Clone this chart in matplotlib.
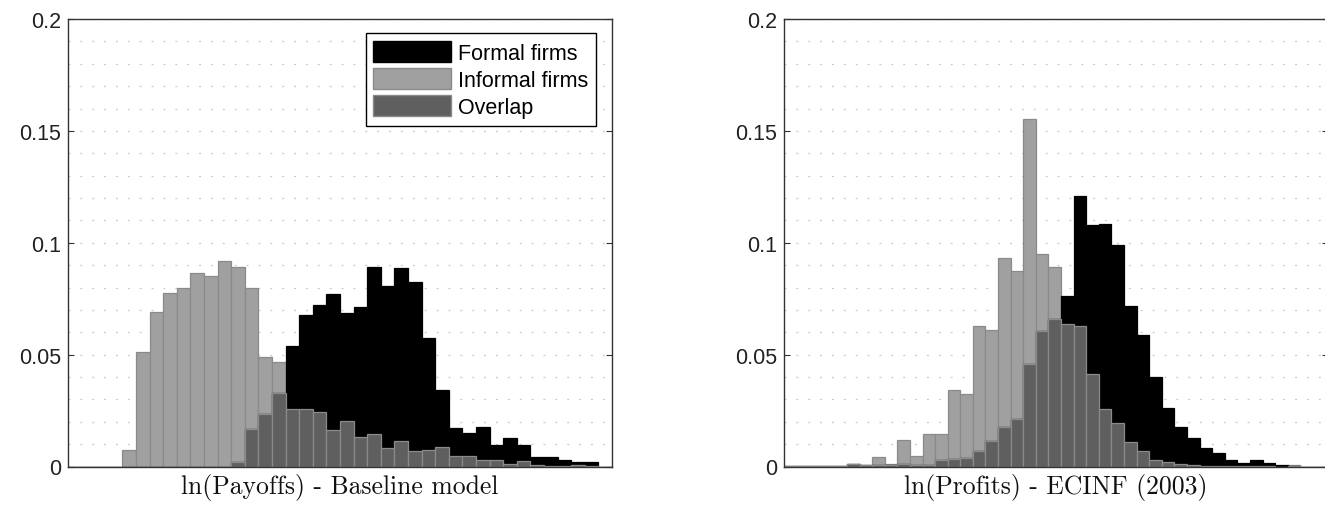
import matplotlib
matplotlib.use('Agg')
import matplotlib.pyplot as plt
from matplotlib.patches import Patch
import numpy as np

# histogram shares per bin (bin index = position along the x axis)
payoff_informal = [0, 0, 0, 0, 0.0075, 0.0512, 0.0691, 0.0775, 0.0800, 0.0863,
                   0.0852, 0.0919, 0.0891, 0.0797, 0.0491, 0.0466, 0.0255, 0.0258,
                   0.0242, 0.0161, 0.0203, 0.0130, 0.0146, 0.0081, 0.0112, 0.0070,
                   0.0075, 0.0087, 0.0045, 0.0048, 0.0028, 0.0028, 0.0012, 0.0024,
                   0.0007, 0.0004, 0.0002, 0.0007, 0.0003, 0]
payoff_formal = [0, 0, 0, 0, 0, 0, 0, 0, 0, 0,
                 0, 0, 0.0020, 0.0167, 0.0234, 0.0330, 0.0537, 0.0679,
                 0.0724, 0.0773, 0.0684, 0.0712, 0.0891, 0.0807, 0.0885, 0.0824,
                 0.0573, 0.0342, 0.0173, 0.0151, 0.0178, 0.0094, 0.0128, 0.0094,
                 0.0043, 0.0043, 0.0027, 0.0021, 0.0021, 0]

profit_informal = [0.0003, 0.0002, 0.0003, 0.0003, 0.0001, 0.0012, 0.0005, 0.0042,
                   0.0010, 0.0120, 0.0046, 0.0147, 0.0144, 0.0344, 0.0326, 0.0628,
                   0.0611, 0.0932, 0.0875, 0.1555, 0.0951, 0.0892, 0.0635, 0.0626,
                   0.0415, 0.0255, 0.0194, 0.0108, 0.0070, 0.0027, 0.0022, 0.0010,
                   0.0006, 0.0004, 0.0003, 0.0001, 0.0001, 0.0001, 0.0001, 0.0000,
                   0.0006, 0, 0]
profit_formal = [0.0001, 0.0001, 0.0001, 0.0001, 0.0001, 0.0012, 0.0005, 0.0007,
                 0.0007, 0.0010, 0.0007, 0.0006, 0.0027, 0.0034, 0.0039, 0.0071,
                 0.0114, 0.0175, 0.0211, 0.0460, 0.0605, 0.0660, 0.0763, 0.1208,
                 0.1080, 0.1085, 0.0991, 0.0718, 0.0589, 0.0401, 0.0263, 0.0175,
                 0.0126, 0.0082, 0.0061, 0.0030, 0.0016, 0.0030, 0.0016, 0.0007,
                 0.0002, 0, 0]

xlabels = ['ln(Payoffs) - Baseline model', 'ln(Profits) - ECINF (2003)']
legend_labels = ['Formal firms', 'Informal firms', 'Overlap']
yticks = [0, 0.05, 0.1, 0.15, 0.2]

C_FORMAL = 'black'
C_INFORMAL = '#a0a0a0'
C_OVERLAP = '#5f5f5f'
C_EDGE = '#8a8a8a'
C_AX = '#333333'

plt.rcParams['font.family'] = ['Liberation Sans', 'DejaVu Sans']


def draw_panel(ax, formal, informal, xmax, label):
	""" formal / informal bars with the common part shaded darker """
	formal = np.array(formal)
	informal = np.array(informal)
	x = np.arange(len(formal))
	overlap = np.minimum(formal, informal)

	ax.bar(x, informal, width=1, align='edge', color=C_INFORMAL, edgecolor=C_EDGE, lw=0.9, zorder=2)
	ax.bar(x, formal, width=1, align='edge', color=C_FORMAL, edgecolor=C_FORMAL, lw=0.9, zorder=3)
	ax.bar(x, overlap, width=1, align='edge', color=C_OVERLAP, edgecolor=C_EDGE, lw=0.9, zorder=4)

	ax.set_xlim(0, xmax)
	ax.set_ylim(0, 0.2)
	ax.set_yticks(yticks)
	ax.set_yticklabels(['0', '0.05', '0.1', '0.15', '0.2'])
	ax.set_yticks(np.arange(0.01, 0.2, 0.01), minor=True)
	ax.set_xticks([])
	ax.tick_params(axis='y', which='major', direction='in', length=4, width=0.8,
				   color=C_AX, labelsize=15.5, pad=5, right=True, labelcolor='#222222')
	ax.tick_params(axis='y', which='minor', length=0)

	ax.yaxis.grid(True, which='both', linestyle=(0, (1.5, 8)), color='#c8c8c8', lw=0.9)
	ax.set_axisbelow(True)

	for sp in ax.spines.values():
		sp.set_color(C_AX)
		sp.set_linewidth(1.0)
		sp.set_zorder(5)

	ax.set_xlabel(label, family='cmr10', fontsize=18.5, labelpad=5, color='#111111')


fig = plt.figure(figsize=(13.25, 5.06), dpi=100)
ax1 = fig.add_axes([68 / 1325, 38.5 / 506, 544 / 1325, 447.5 / 506])
ax2 = fig.add_axes([784 / 1325, 38.5 / 506, 544 / 1325, 447.5 / 506])

draw_panel(ax1, payoff_formal, payoff_informal, 40, xlabels[0])
draw_panel(ax2, profit_formal, profit_informal, 43.2, xlabels[1])

handles = [Patch(facecolor=C_FORMAL, edgecolor=C_FORMAL),
		   Patch(facecolor=C_INFORMAL, edgecolor=C_EDGE),
		   Patch(facecolor=C_OVERLAP, edgecolor=C_EDGE)]
leg = ax1.legend(handles, legend_labels, loc='upper right', bbox_to_anchor=(0.9706, 0.9687),
				 borderaxespad=0, fancybox=False, framealpha=1, edgecolor='black',
				 fontsize=15.5, handlelength=3.6, handleheight=1.15, labelspacing=0.2,
				 borderpad=0.35, handletextpad=0.35)
leg.get_frame().set_linewidth(1.0)
leg.set_zorder(10)

fig.savefig('out.png', dpi=100)
